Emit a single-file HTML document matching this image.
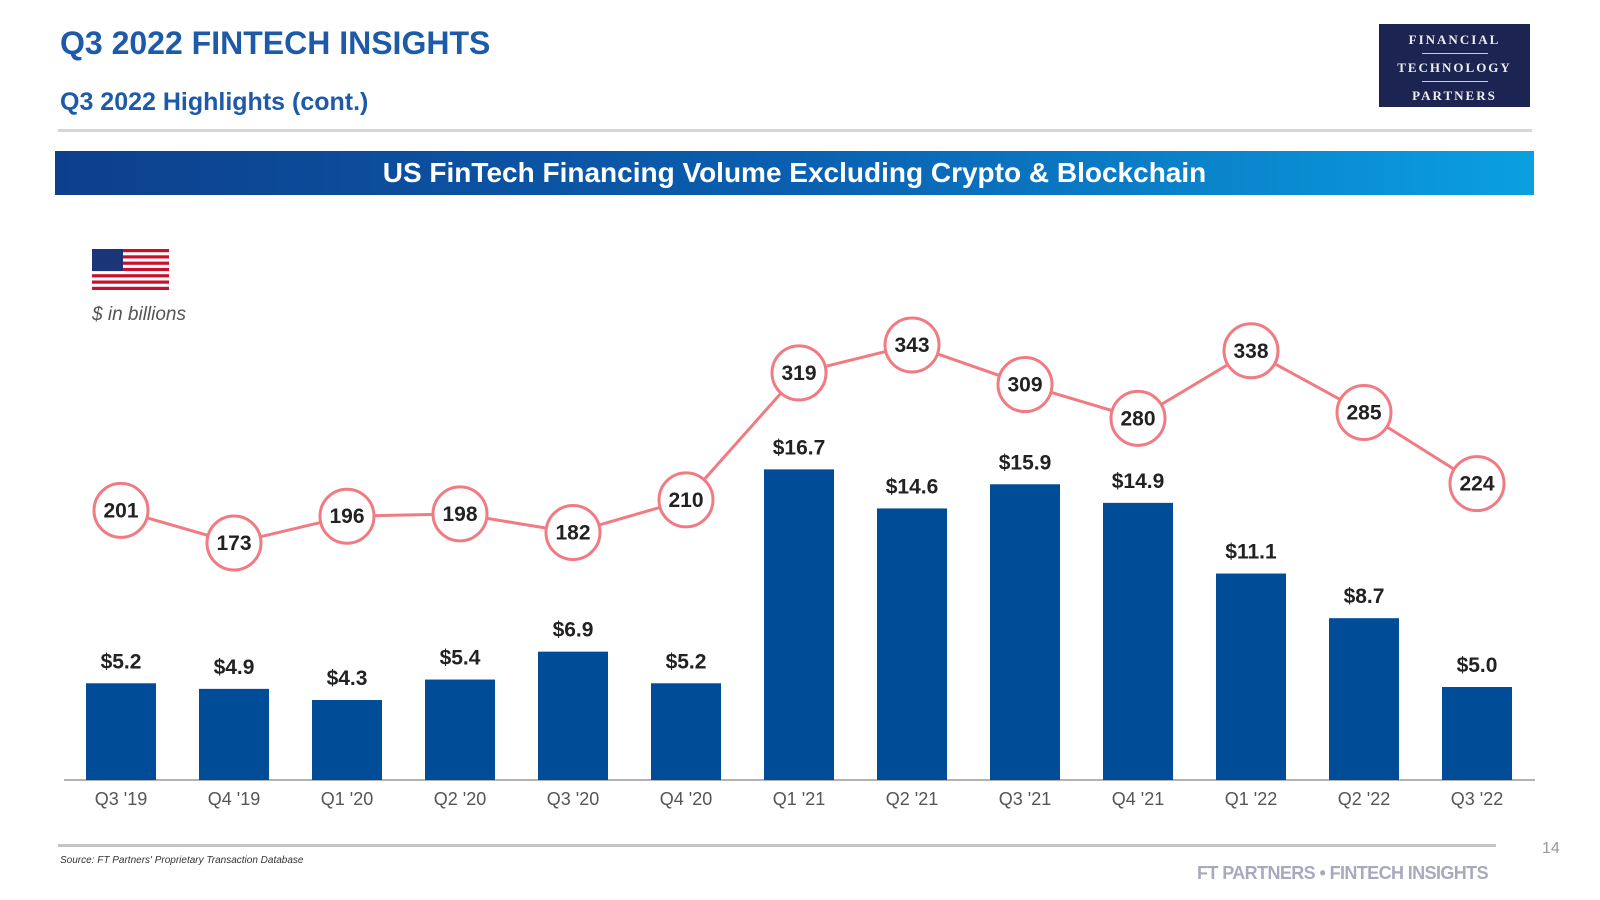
<!DOCTYPE html>
<html><head><meta charset="utf-8">
<style>
body{margin:0;width:1600px;height:900px;background:#fff;font-family:"Liberation Sans",sans-serif;position:relative;overflow:hidden}
.abs{position:absolute}
</style></head><body>
<div class="abs" style="left:60px;top:25px;font-size:32px;font-weight:bold;color:#1d5aa8;letter-spacing:0px">Q3 2022 FINTECH INSIGHTS</div>
<div class="abs" style="left:60px;top:88px;font-size:25px;font-weight:bold;color:#1d5aa8">Q3 2022 Highlights (cont.)</div>
<div class="abs" style="left:1379px;top:24px;width:151px;height:83px;background:#1c2452;color:#eee;font-family:'Liberation Serif',serif;font-weight:bold;font-size:13px;letter-spacing:2px;text-align:center">
<div style="margin-top:8px">FINANCIAL</div>
<div style="width:66px;height:1px;background:#ccc;margin:5px auto 6px"></div>
<div>TECHNOLOGY</div>
<div style="width:66px;height:1px;background:#ccc;margin:5px auto 6px"></div>
<div>PARTNERS</div></div>
<div class="abs" style="left:58px;top:129px;width:1474px;height:3px;background:#d6d6d6"></div>
<div class="abs" style="left:55px;top:151px;width:1479px;height:44px;background:linear-gradient(90deg,#0d3f8c,#0a5fb0 50%,#0aa0e0);color:#fff;font-size:28px;font-weight:bold;text-align:center;line-height:44px">US FinTech Financing Volume Excluding Crypto &amp; Blockchain</div>
<svg class="abs" style="left:92px;top:249px" width="77" height="41" viewBox="0 0 77 41">
<rect width="77" height="41" fill="#fff"/>
<g fill="#c8102e"><rect y="0" width="77" height="3.2"/><rect y="6.3" width="77" height="3.2"/><rect y="12.6" width="77" height="3.2"/><rect y="18.9" width="77" height="3.2"/><rect y="25.2" width="77" height="3.2"/><rect y="31.5" width="77" height="3.2"/><rect y="37.8" width="77" height="3.2"/></g>
<rect width="31" height="22" fill="#1c3578"/></svg>
<div class="abs" style="left:92px;top:304px;font-size:19px;font-style:italic;color:#555">$ in billions</div>
<svg class="abs" style="left:0;top:0" width="1600" height="900" id="chart"></svg>
<div class="abs" style="left:58px;top:844px;width:1438px;height:3px;background:#c4c4c4"></div>
<div class="abs" style="left:60px;top:855px;font-size:10px;font-style:italic;color:#333">Source: FT Partners' Proprietary Transaction Database</div>
<div class="abs" style="left:1542px;top:840px;font-size:16px;color:#999">14</div>
<div class="abs" style="left:1197px;top:863px;font-size:18px;font-weight:bold;color:#a7a9bd;letter-spacing:-0.6px">FT PARTNERS • FINTECH INSIGHTS</div>
<script>
const categories=["Q3 '19","Q4 '19","Q1 '20","Q2 '20","Q3 '20","Q4 '20","Q1 '21","Q2 '21","Q3 '21","Q4 '21","Q1 '22","Q2 '22","Q3 '22"];
const volumes=[5.2,4.9,4.3,5.4,6.9,5.2,16.7,14.6,15.9,14.9,11.1,8.7,5.0];
const dealCounts=[201,173,196,198,182,210,319,343,309,280,338,285,224];
const svg=document.getElementById('chart');
const NS='http://www.w3.org/2000/svg';
const base=780;
function xPos(i){return 121+i*113.0;}
function yBar(v){return base-v*18.6;}
function yLine(v){return 543-(v-173)*1.165;}
function mk(t,a){const e=document.createElementNS(NS,t);for(const k in a)e.setAttribute(k,a[k]);svg.appendChild(e);return e;}
const axis=mk('line',{x1:64,x2:1535,y1:base,y2:base,stroke:'#999','stroke-width':1.5});


categories.forEach((c,i)=>{
  const h=base-yBar(volumes[i]);
  const r=mk('rect',{x:xPos(i)-35,y:yBar(volumes[i]),width:70,height:h,fill:'#004c97'});
  
  
  const t=mk('text',{x:xPos(i),y:yBar(volumes[i])-15,'text-anchor':'middle','font-size':21,'font-weight':'bold',fill:'#222'});
  t.textContent='$'+volumes[i].toFixed(1);
  
  
  const l=mk('text',{x:xPos(i),y:805,'text-anchor':'middle','font-size':18,fill:'#555'});
  l.textContent=c;
  
  
});
const pts=dealCounts.map((v,i)=>xPos(i)+','+yLine(v)).join(' ');
const pl=mk('polyline',{points:pts,fill:'none',stroke:'#f07b82','stroke-width':3});


dealCounts.forEach((v,i)=>{
  const c=mk('circle',{cx:xPos(i),cy:yLine(v),r:27,fill:'#fff',stroke:'#f07b82','stroke-width':3});
  
  
  const t=mk('text',{x:xPos(i),y:yLine(v)+7,'text-anchor':'middle','font-size':21,'font-weight':'bold',fill:'#222'});
  t.textContent=v;
  
  
});
</script>
</body></html>
